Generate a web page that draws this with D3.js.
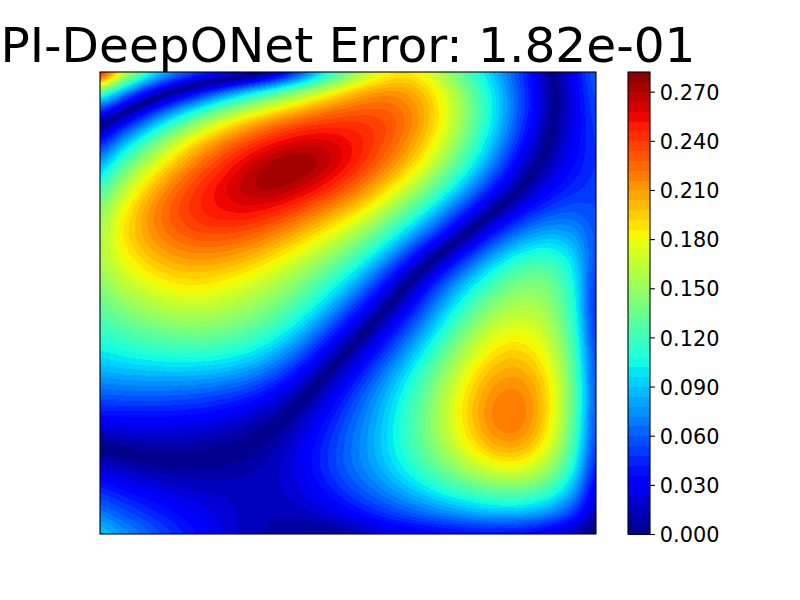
<!DOCTYPE html>
<html><head><meta charset="utf-8">
<script src="https://cdn.jsdelivr.net/npm/d3@7/dist/d3.min.js"></script>
<style>html,body{margin:0;padding:0;background:#fff}svg{display:block}text{font-family:"DejaVu Sans",sans-serif}</style>
</head><body><div id="chart"></div>
<script>
const titleText = "PI-DeepONet Error: 1.82e-01";
const tickValues = [0, 0.03, 0.06, 0.09, 0.12, 0.15, 0.18, 0.21, 0.24, 0.27];
const levelStep = 0.006, levelCount = 47;
// Error, in thousandths, on a 21 x 21 sample grid.
// The sign only records which side of a dark zero valley a sample lies on; the picture shows |value|.
const signedError = [
[-245,-155,-95,-70,-45,-30,-12,8,55,100,145,172,198,192,150,115,88,50,12,-30,-60],
[-85,-55,-20,5,40,85,130,160,185,203,218,232,230,212,185,140,100,55,18,-28,-55],
[-12,12,80,125,160,190,208,220,230,238,243,245,235,220,186,140,100,55,14,-30,-50],
[45,95,135,170,205,222,238,250,265,270,257,248,230,205,165,125,85,40,4,-33,-48],
[90,132,172,205,228,248,268,292,300,290,264,240,215,190,150,110,70,18,-9,-40,-47],
[122,170,205,232,250,264,285,292,274,250,238,212,185,155,115,80,40,-3,-30,-47,-50],
[152,192,222,242,254,258,258,250,232,215,203,178,145,105,70,35,-8,-33,-50,-60,-55],
[165,198,218,232,240,240,235,220,200,185,165,135,105,75,45,-10,-45,-75,-90,-90,-60],
[163,186,202,212,215,210,205,190,175,155,135,105,70,15,-20,-60,-95,-120,-125,-115,-60],
[150,168,182,192,196,185,175,160,145,120,100,60,15,-30,-70,-100,-130,-150,-150,-130,-50],
[135,150,160,172,170,165,155,145,130,105,72,32,-8,-45,-85,-120,-145,-160,-155,-135,-45],
[120,130,140,147,150,150,140,125,105,70,25,-8,-40,-75,-115,-150,-180,-184,-168,-140,-50],
[105,110,115,120,120,115,110,95,65,35,-3,-30,-65,-95,-130,-170,-192,-198,-182,-145,-55],
[85,90,90,90,90,88,80,65,40,7,-30,-55,-90,-120,-155,-192,-214,-218,-196,-155,-60],
[60,60,60,60,58,50,45,30,3,-20,-50,-75,-100,-130,-165,-204,-224,-230,-206,-155,-60],
[33,33,30,30,28,20,15,3,-12,-35,-60,-80,-105,-135,-170,-206,-234,-238,-206,-150,-60],
[5,12,14,14,12,7,3,-10,-22,-45,-65,-80,-110,-135,-165,-195,-226,-228,-194,-140,-55],
[-14,-10,-6,-3,-3,-8,-12,-15,-28,-50,-70,-80,-105,-125,-150,-172,-192,-194,-172,-130,-50],
[-45,-35,-25,-20,-16,-15,-15,-15,-22,-40,-60,-70,-85,-100,-118,-130,-140,-145,-130,-115,-28],
[-65,-55,-45,-36,-30,-24,-16,-11,-12,-20,-35,-50,-60,-72,-80,-90,-95,-97,-90,-70,-18],
[-90,-75,-60,-45,-35,-22,-12,-10,-6,-3,-5,-20,-25,-30,-35,-40,-40,-38,-30,-18,4]
];

const W = 800, H = 600;
const plot = {l:100, r:596, t:72, b:534};
const bar = {l:628, r:650};
const levels = d3.range(levelCount + 1).map(i => +(i * levelStep).toFixed(3));
const maxLevel = levels[levels.length - 1];

// jet colour map, from its breakpoints
const jetR = d3.scaleLinear().domain([0,.35,.66,.89,1]).range([0,0,1,1,.5]).clamp(true);
const jetG = d3.scaleLinear().domain([0,.125,.375,.64,.91,1]).range([0,0,1,1,0,0]).clamp(true);
const jetB = d3.scaleLinear().domain([0,.11,.34,.65,1]).range([.5,1,1,0,0]).clamp(true);
const jet = t => `rgb(${Math.round(255*jetR(t))},${Math.round(255*jetG(t))},${Math.round(255*jetB(t))})`;
const bandColor = i => jet((levels[i] + levels[i+1]) / 2 / maxLevel);

const n = signedError.length - 1, sub = 8;
const x = d3.scaleLinear().domain([0, n]).range([plot.l, plot.r]);
const y = d3.scaleLinear().domain([0, n]).range([plot.t, plot.b]);
const cy = d3.scaleLinear().domain([0, maxLevel]).range([plot.b, plot.t]);

// Hand-read samples carry reading noise: a light 3-tap pass per axis, edges extended linearly
function ease(grid) {
  const get = (a, i) => i < 0 ? 2*a[0]-a[-i] : i > n ? 2*a[n]-a[2*n-i] : a[i];
  const line = a => a.map((v,i) => 0.2*get(a,i-1) + 0.6*v + 0.2*get(a,i+1));
  const byRow = grid.map(line);
  const cols = d3.range(n+1).map(c => line(byRow.map(r => r[c])));
  return byRow.map((r,j) => r.map((v,c) => cols[c][j]));
}
const surface = ease(ease(signedError));

// Smooth display surface through the samples (Catmull-Rom), one extra step outside the frame
const cr = (a,b,c,d,t) => 0.5*(2*b + (c-a)*t + (2*a-5*b+4*c-d)*t*t + (3*b-a-3*c+d)*t*t*t);
const at = (r,c) => surface[Math.max(0,Math.min(n,r))][Math.max(0,Math.min(n,c))];
function sample(gy, gx) {
  const r = Math.max(0, Math.min(n-1, Math.floor(gy))), c = Math.max(0, Math.min(n-1, Math.floor(gx)));
  const ty = gy - r, tx = gx - c;
  const rows = [-1,0,1,2].map(k => cr(at(r+k,c-1), at(r+k,c), at(r+k,c+1), at(r+k,c+2), tx));
  return cr(rows[0], rows[1], rows[2], rows[3], ty);
}
const size = n*sub + 3, values = new Float64Array(size*size);
for (let j = 0; j < size; j++) for (let i = 0; i < size; i++)
  values[j*size+i] = Math.abs(sample((j-1)/sub, (i-1)/sub)) / 1000;

const svg = d3.select("#chart").append("svg").attr("width", W).attr("height", H);
svg.append("defs").append("clipPath").attr("id","plotClip").append("rect")
  .attr("x",plot.l).attr("y",plot.t).attr("width",plot.r-plot.l).attr("height",plot.b-plot.t);

const project = d3.geoTransform({point(px,py){
  this.stream.point(x((px-0.5-1)/sub), y((py-0.5-1)/sub));
}});
const path = d3.geoPath(project);
const contours = d3.contours().size([size,size]).smooth(true).thresholds(levels.slice(0,-1))(values);
const g = svg.append("g").attr("clip-path","url(#plotClip)");
g.append("rect").attr("x",plot.l).attr("y",plot.t).attr("width",plot.r-plot.l).attr("height",plot.b-plot.t).attr("fill",bandColor(0));
g.selectAll("path").data(contours.slice(1)).join("path")
  .attr("d",path).attr("fill",(d,i)=>bandColor(i+1)).attr("shape-rendering","crispEdges");

svg.append("rect").attr("x",plot.l).attr("y",plot.t).attr("width",plot.r-plot.l).attr("height",plot.b-plot.t)
  .attr("fill","none").attr("stroke","#000").attr("stroke-width",1.1);

// colour bar
svg.append("g").selectAll("rect").data(d3.range(levelCount)).join("rect")
  .attr("x",bar.l).attr("width",bar.r-bar.l)
  .attr("y",i=>cy(levels[i+1])).attr("height",i=>cy(levels[i])-cy(levels[i+1])+0.5)
  .attr("fill",bandColor).attr("shape-rendering","crispEdges");
svg.append("rect").attr("x",bar.l).attr("y",plot.t).attr("width",bar.r-bar.l).attr("height",plot.b-plot.t)
  .attr("fill","none").attr("stroke","#000").attr("stroke-width",1.1);
const axis = d3.axisRight(cy).tickValues(tickValues).tickFormat(d3.format(".3f")).tickSize(4.9).tickPadding(4.9);
const ag = svg.append("g").attr("transform",`translate(${bar.r},0)`).call(axis);
ag.select(".domain").remove();
ag.selectAll("line").attr("stroke","#000").attr("stroke-width",1.1);
ag.selectAll("text").attr("fill","#000").attr("dy","0.37em").style("font-size","20.83px").style("font-family",'"DejaVu Sans",sans-serif');

svg.append("text").attr("x",348).attr("y",62).attr("text-anchor","middle")
  .style("font-size","48.6px").attr("fill","#000").text(titleText);
</script></body></html>
